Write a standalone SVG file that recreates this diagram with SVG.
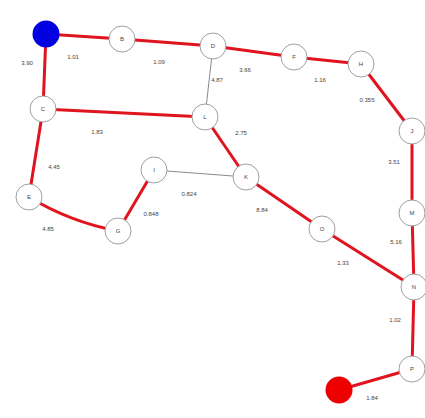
<svg xmlns="http://www.w3.org/2000/svg" width="425" height="418" viewBox="0 0 425 418">
<style>
.e{stroke:#e0141e;stroke-width:3;fill:none}
.t{stroke:#8a8a8a;stroke-width:1;fill:none}
.n circle{fill:#fff;stroke:#a0a0a0;stroke-width:1}
.n text{font-family:"Liberation Sans",Arial,sans-serif;font-size:6px;fill:#444;text-anchor:middle;dominant-baseline:central}
.l{font-family:"Liberation Sans",Arial,sans-serif;font-size:6px;fill:#444;text-anchor:middle}
</style>
<rect width="425" height="418" fill="#fff"/>
<g id="connectors">
<line class="e" x1="46" y1="34" x2="122" y2="39"/>
<line class="e" x1="122" y1="39" x2="213" y2="46"/>
<line class="e" x1="46" y1="34" x2="43" y2="109"/>
<line class="e" x1="213" y1="46" x2="294" y2="57"/>
<line class="e" x1="294" y1="57" x2="361" y2="64"/>
<line class="e" x1="361" y1="64" x2="412" y2="131"/>
<line class="e" x1="412" y1="131" x2="412" y2="213"/>
<line class="e" x1="412" y1="213" x2="414" y2="287"/>
<line class="t" x1="213" y1="46" x2="205" y2="117"/>
<line class="e" x1="43" y1="109" x2="205" y2="117"/>
<line class="e" x1="205" y1="117" x2="246" y2="177"/>
<line class="e" x1="43" y1="109" x2="29" y2="197"/>
<path class="e" d="M29 197 Q70 222 118 231"/>
<line class="e" x1="118" y1="231" x2="154" y2="170"/>
<line class="t" x1="154" y1="170" x2="246" y2="177"/>
<line class="e" x1="246" y1="177" x2="322" y2="229"/>
<line class="e" x1="322" y1="229" x2="414" y2="287"/>
<line class="e" x1="414" y1="287" x2="412" y2="369"/>
<line class="e" x1="412" y1="369" x2="339" y2="390"/>
</g>
<g id="edge-labels">
<text class="l" x="73" y="59">1.01</text>
<text class="l" x="159" y="64">1.09</text>
<text class="l" x="27" y="65">3.90</text>
<text class="l" x="217" y="82">4.87</text>
<text class="l" x="97" y="134">1.83</text>
<text class="l" x="245" y="72">3.66</text>
<text class="l" x="320" y="82">1.16</text>
<text class="l" x="367" y="102">0.355</text>
<text class="l" x="241" y="135">2.75</text>
<text class="l" x="54" y="169">4.45</text>
<text class="l" x="189" y="196">0.824</text>
<text class="l" x="151" y="216">0.848</text>
<text class="l" x="48" y="231">4.85</text>
<text class="l" x="262" y="212">8.84</text>
<text class="l" x="394" y="164">3.51</text>
<text class="l" x="396" y="244">5.16</text>
<text class="l" x="343" y="265">1.33</text>
<text class="l" x="395" y="322">1.02</text>
<text class="l" x="372" y="400">1.84</text>
</g>
<g id="A"><circle cx="46" cy="34" r="13.5" fill="#0000e0"/></g>
<g id="B" class="n"><circle cx="122" cy="39" r="13"/><text x="122" y="39">B</text></g>
<g id="D" class="n"><circle cx="213" cy="46" r="13"/><text x="213" y="46">D</text></g>
<g id="F" class="n"><circle cx="294" cy="57" r="13"/><text x="294" y="57">F</text></g>
<g id="H" class="n"><circle cx="361" cy="64" r="13"/><text x="361" y="64">H</text></g>
<g id="C" class="n"><circle cx="43" cy="109" r="13"/><text x="43" y="109">C</text></g>
<g id="L" class="n"><circle cx="205" cy="117" r="13"/><text x="205" y="117">L</text></g>
<g id="J" class="n"><circle cx="412" cy="131" r="13"/><text x="412" y="131">J</text></g>
<g id="I" class="n"><circle cx="154" cy="170" r="13"/><text x="154" y="170">I</text></g>
<g id="K" class="n"><circle cx="246" cy="177" r="13"/><text x="246" y="177">K</text></g>
<g id="E" class="n"><circle cx="29" cy="197" r="13"/><text x="29" y="197">E</text></g>
<g id="M" class="n"><circle cx="412" cy="213" r="13"/><text x="412" y="213">M</text></g>
<g id="G" class="n"><circle cx="118" cy="231" r="13"/><text x="118" y="231">G</text></g>
<g id="O" class="n"><circle cx="322" cy="229" r="13"/><text x="322" y="229">O</text></g>
<g id="N" class="n"><circle cx="414" cy="287" r="13"/><text x="414" y="287">N</text></g>
<g id="P" class="n"><circle cx="412" cy="369" r="13"/><text x="412" y="369">P</text></g>
<g id="Q"><circle cx="339" cy="390" r="13.5" fill="#ee0000"/></g>
</svg>
